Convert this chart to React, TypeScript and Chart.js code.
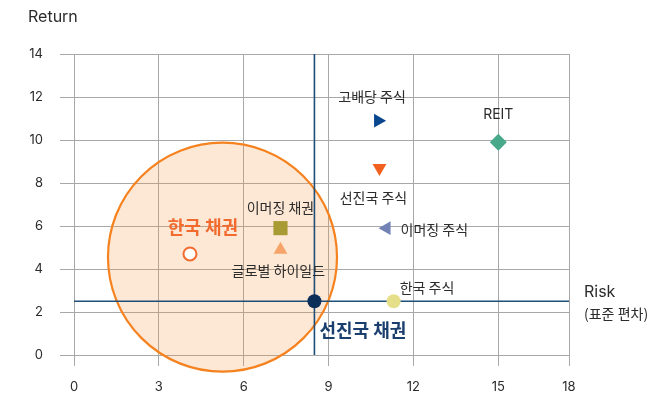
import React, { useEffect, useRef } from "react";
import { Chart, registerables } from "chart.js";

Chart.register(...registerables);

// ---- data ----
const assetNames = ["한국 채권", "이머징 채권", "글로벌 하이일드", "선진국 채권", "한국 주식", "이머징 주식", "선진국 주식", "고배당 주식", "REIT"];
const riskValues = [4.1, 7.3, 7.3, 8.5, 11.3, 11.05, 10.8, 10.75, 15.0];
const returnValues = [4.7, 5.9, 4.9, 2.5, 2.5, 5.9, 8.7, 10.9, 9.9];

const bondZoneCenter = [5.25, 4.55];
const bondZoneRadius = [114.5];

const refRisk = [8.5];
const refReturn = [2.5];

const xTickValues = [0, 3, 6, 9, 12, 15, 17.5];
const xTickLabels = ["0", "3", "6", "9", "12", "15", "18"];
const yTickValues = [0, 2, 4, 6, 8, 10, 12, 14];

// ---- styles ----
const FONT = "Inter, 'Noto Sans CJK KR', sans-serif";
const KFONT = "'Noto Sans CJK KR', Inter, sans-serif";
const TEXT = "#2b2b2b";

const pointStyles = [
  { style: "circle", rot: 0, r: 6.5, bg: "#ffffff", border: "#f26a2e", bw: 2 },
  { style: "rect", rot: 0, r: 10, bg: "#a89b34", border: "#a89b34", bw: 0 },
  { style: "triangle", rot: 0, r: 8, bg: "#f7a46a", border: "#f7a46a", bw: 0 },
  { style: "circle", rot: 0, r: 7, bg: "#0c2f5a", border: "#0c2f5a", bw: 0 },
  { style: "circle", rot: 0, r: 7, bg: "#e6df8a", border: "#e6df8a", bw: 0 },
  { style: "triangle", rot: 270, r: 8, bg: "#7282b5", border: "#7282b5", bw: 0 },
  { style: "triangle", rot: 180, r: 8, bg: "#f2601f", border: "#f2601f", bw: 0 },
  { style: "triangle", rot: 90, r: 8, bg: "#0a468e", border: "#0a468e", bw: 0 },
  { style: "rectRot", rot: 0, r: 8.5, bg: "#47a98a", border: "#47a98a", bw: 0 },
];

const labelStyles = [
  { dx: 13, dy: -27, align: "center", font: `bold 18px ${KFONT}`, color: "#f26a2e" },
  { dx: 0, dy: -20, align: "center", font: `14px ${KFONT}`, color: TEXT },
  { dx: -2, dy: 21, align: "center", font: `14px ${KFONT}`, color: TEXT },
  { dx: 5, dy: 29, align: "left", font: `bold 18px ${KFONT}`, color: "#1a3e6e" },
  { dx: 6, dy: -14, align: "left", font: `14px ${KFONT}`, color: TEXT },
  { dx: 14, dy: 2, align: "left", font: `14px ${KFONT}`, color: TEXT },
  { dx: -6, dy: 30, align: "center", font: `14px ${KFONT}`, color: TEXT },
  { dx: -6, dy: -24, align: "center", font: `14px ${KFONT}`, color: TEXT },
  { dx: 0, dy: -27, align: "center", font: `14px ${FONT}`, color: TEXT },
];

const labelPlugin = {
  id: "labelPlugin",
  afterDatasetsDraw(chart: any) {
    const ctx = chart.ctx;
    const xs = chart.scales.x;
    const ys = chart.scales.y;
    ctx.save();
    ctx.textBaseline = "middle";
    assetNames.forEach((name, i) => {
      const ls = labelStyles[i];
      const px = xs.getPixelForValue(riskValues[i]);
      const py = ys.getPixelForValue(returnValues[i]);
      ctx.font = ls.font;
      ctx.fillStyle = ls.color;
      ctx.textAlign = ls.align;
      ctx.fillText(name, px + ls.dx, py + ls.dy);
    });
    // axis titles
    ctx.fillStyle = TEXT;
    ctx.textAlign = "left";
    ctx.font = `16px ${FONT}`;
    ctx.fillText("Return", 28, 17);
    ctx.fillText("Risk", xs.right + 15, ys.getPixelForValue(refReturn[0]) - 9);
    ctx.font = `14px ${KFONT}`;
    ctx.fillText("(표준 편차)", xs.right + 15, ys.getPixelForValue(refReturn[0]) + 12);
    ctx.restore();
  },
};

export default function App() {
  const ref = useRef<HTMLCanvasElement>(null);
  useEffect(() => {
    document.body.style.margin = "0";
    const xMax = xTickValues[xTickValues.length - 1];
    const yMax = yTickValues[yTickValues.length - 1];
    const pointDatasets = assetNames.map((name, i) => {
      const s = pointStyles[i];
      return {
        type: "scatter",
        label: name,
        data: [{ x: riskValues[i], y: returnValues[i] }],
        pointStyle: s.style,
        rotation: s.rot,
        pointRadius: s.r,
        pointHoverRadius: s.r,
        backgroundColor: s.bg,
        borderColor: s.border,
        borderWidth: s.bw,
        order: 0,
      };
    });
    const chart = new Chart(ref.current!, {
      type: "scatter",
      data: {
        datasets: [
          ...pointDatasets,
          {
            type: "line",
            label: "ref-x",
            data: [{ x: refRisk[0], y: 0 }, { x: refRisk[0], y: yMax }],
            borderColor: "#1f4e79",
            borderWidth: 1.6,
            pointRadius: 0,
            showLine: true,
            order: 5,
          },
          {
            type: "line",
            label: "ref-y",
            data: [{ x: 0, y: refReturn[0] }, { x: xMax, y: refReturn[0] }],
            borderColor: "#1f4e79",
            borderWidth: 1.6,
            pointRadius: 0,
            showLine: true,
            order: 5,
          },
          {
            type: "bubble",
            label: "zone",
            data: [{ x: bondZoneCenter[0], y: bondZoneCenter[1], r: bondZoneRadius[0] }],
            backgroundColor: "rgba(248,150,70,0.22)",
            borderColor: "#f5821f",
            borderWidth: 2.2,
            clip: false,
            order: 10,
          },
        ] as any,
      },
      options: {
        animation: false,
        responsive: false,
        events: [],
        layout: { autoPadding: false, padding: { top: 54, right: 91, left: 0, bottom: 0 } },
        plugins: { legend: { display: false }, tooltip: { enabled: false } },
        scales: {
          x: {
            type: "linear",
            min: 0,
            max: xMax,
            afterBuildTicks: (axis: any) => {
              axis.ticks = xTickValues.map((v) => ({ value: v }));
            },
            afterFit: (axis: any) => {
              axis.height = 41;
            },
            ticks: {
              callback: (_v: any, idx: number) => xTickLabels[idx],
              font: { family: FONT, size: 13 },
              color: TEXT,
              padding: 13,
              maxRotation: 0,
            },
            grid: { color: "#a8a8a8", lineWidth: 1, tickLength: 11, drawTicks: true },
            border: { display: false },
          },
          y: {
            type: "linear",
            min: 0,
            max: yMax,
            afterBuildTicks: (axis: any) => {
              axis.ticks = yTickValues.map((v) => ({ value: v }));
            },
            afterFit: (axis: any) => {
              axis.width = 74;
            },
            ticks: {
              font: { family: FONT, size: 13 },
              color: TEXT,
              padding: 17,
            },
            grid: { color: "#a8a8a8", lineWidth: 1, tickLength: 14, drawTicks: true },
            border: { display: false },
          },
        },
      } as any,
      plugins: [labelPlugin],
    });
    return () => chart.destroy();
  }, []);
  return (
    <div style={{ position: "fixed", left: 0, top: 0, width: 660, height: 396, background: "#ffffff" }}>
      <canvas ref={ref} width={660} height={396} style={{ display: "block" }} />
    </div>
  );
}
